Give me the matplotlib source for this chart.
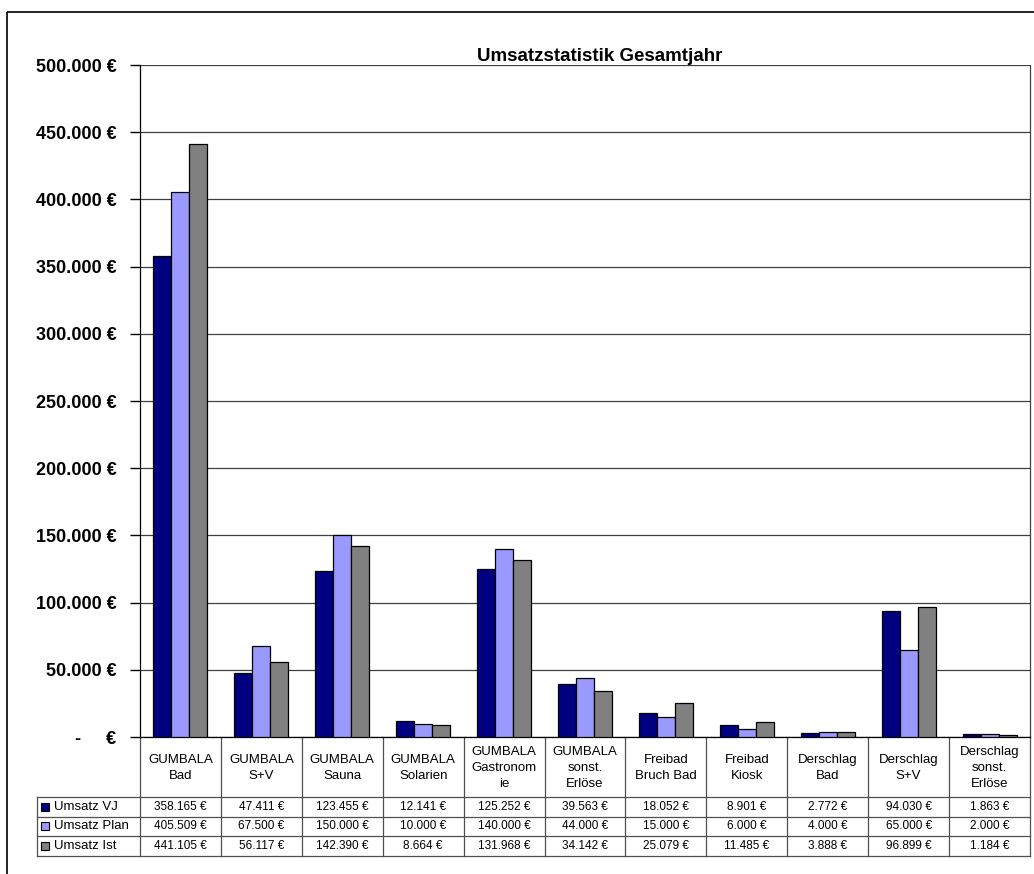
import numpy as np
import matplotlib
matplotlib.use("Agg")
import matplotlib.pyplot as plt
from matplotlib.patches import Rectangle
from matplotlib.lines import Line2D
from matplotlib.transforms import blended_transform_factory

plt.rcParams['font.family'] = ['Liberation Sans', 'DejaVu Sans']

# Daten
kategorien = ["GUMBALA\nBad", "GUMBALA\nS+V", "GUMBALA\nSauna", "GUMBALA\nSolarien",
              "GUMBALA\nGastronom\nie", "GUMBALA\nsonst.\nErlöse", "Freibad\nBruch Bad",
              "Freibad\nKiosk", "Derschlag\nBad", "Derschlag\nS+V", "Derschlag\nsonst.\nErlöse"]
umsatz_vj = [358165, 47411, 123455, 12141, 125252, 39563, 18052, 8901, 2772, 94030, 1863]
umsatz_plan = [405509, 67500, 150000, 10000, 140000, 44000, 15000, 6000, 4000, 65000, 2000]
umsatz_ist = [441105, 56117, 142390, 8664, 131968, 34142, 25079, 11485, 3888, 96899, 1184]
serien = ["Umsatz VJ", "Umsatz Plan", "Umsatz Ist"]
farben = ["#000080", "#9999FF", "#808080"]
y_ticks = [0, 50000, 100000, 150000, 200000, 250000, 300000, 350000, 400000, 450000, 500000]


def euro(v):
    return f"{v:,.0f} €".replace(",", ".")


W, H = 1034, 874
fig = plt.figure(figsize=(W / 100, H / 100), dpi=100)

# Overlay in Pixelkoordinaten (y nach unten)
ov = fig.add_axes([0, 0, 1, 1])
ov.set_xlim(0, W)
ov.set_ylim(H, 0)
ov.axis('off')

# Diagrammrahmen
ov.add_patch(Rectangle((7, 12), 1200, 1000, fill=False, ec='black', lw=1.2))

px_left, px_right, px_top, px_bottom = 140, 1030, 65, 737
ax = fig.add_axes([px_left / W, (H - px_bottom) / H, (px_right - px_left) / W, (px_bottom - px_top) / H])
ax.patch.set_alpha(0)

x = np.arange(len(kategorien))
bw = 1 / 4.5
for i, (vals, col) in enumerate(zip([umsatz_vj, umsatz_plan, umsatz_ist], farben)):
    ax.bar(x + (i - 1) * bw, vals, width=bw, color=col, edgecolor='black', linewidth=0.9, zorder=3)

ax.set_xlim(-0.5, len(kategorien) - 0.5)
ax.set_ylim(0, 500000)
ax.set_yticks(y_ticks)
ax.set_yticklabels(["-     €" if v == 0 else euro(v) for v in y_ticks],
                   fontsize=13, fontweight='bold')
ax.tick_params(axis='y', length=7, width=1, pad=10, color='black')
ax.set_xticks([])
ax.grid(axis='y', color='#404040', linewidth=0.9, zorder=0)
ax.spines['top'].set_visible(False)
ax.spines['right'].set_color('#404040')
ax.spines['left'].set_color('black')
ax.spines['bottom'].set_color('black')
for s in ax.spines.values():
    s.set_linewidth(0.9)

fig.text(600 / W, 1 - 61 / H, "Umsatzstatistik Gesamtjahr", ha='center', va='baseline',
         fontsize=13.5, fontweight='bold')

# Datentabelle
tr = blended_transform_factory(ax.transData, ov.transData)
hdr_bot = 797
row_h = 19.5
rows_y = [hdr_bot + row_h * k for k in range(4)]
lc = '#505050'
for k in range(len(kategorien) + 1):
    ov.add_line(Line2D([k - 0.5, k - 0.5], [px_bottom, rows_y[-1]], transform=tr, color=lc, lw=0.9))
for yy in rows_y:
    ov.add_line(Line2D([37, px_right], [yy, yy], color=lc, lw=0.9))
ov.add_line(Line2D([37, 37], [hdr_bot, rows_y[-1]], color=lc, lw=0.9))

for k, lab in enumerate(kategorien):
    ov.text(k, (px_bottom + hdr_bot) / 2 + 1, lab, transform=tr, ha='center', va='center',
            fontsize=9.5, linespacing=1.4)

for r, (name, col, vals) in enumerate(zip(serien, farben, [umsatz_vj, umsatz_plan, umsatz_ist])):
    yc = rows_y[r] + row_h / 2
    ov.add_patch(Rectangle((41, yc - 4), 8, 8, fc=col, ec='black', lw=0.8))
    ov.text(54, yc, name, ha='left', va='center', fontsize=9.5)
    for k, v in enumerate(vals):
        ov.text(k, yc, euro(v), transform=tr, ha='center', va='center', fontsize=8.5)

fig.savefig("out.png", dpi=100)
